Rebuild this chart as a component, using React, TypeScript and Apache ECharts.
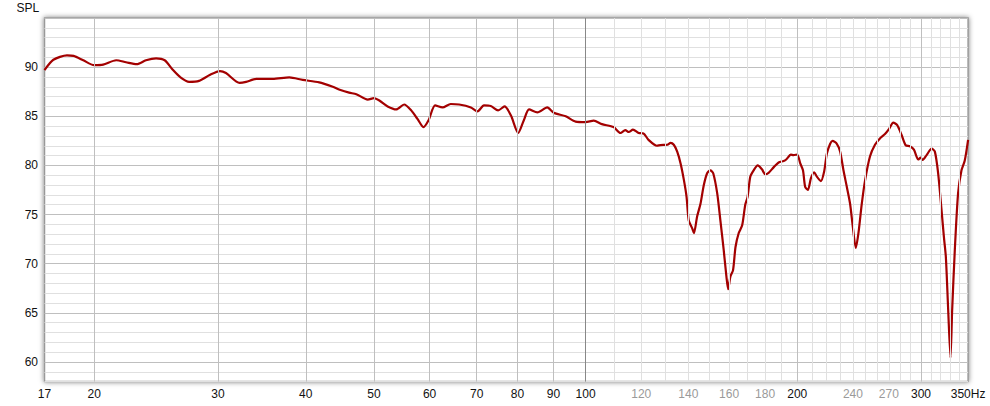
import React, { useEffect, useRef } from "react";
import * as echarts from "echarts";

// Frequency response (Hz) and SPL (dB)
const freqs = [
  17.0, 17.5, 18.3, 18.7, 19.3, 20.0, 20.6, 21.5, 22.2, 23.0, 23.7, 24.5, 25.2, 25.9, 26.5, 27.3, 28.2, 29.2,
  30.2, 30.8, 32.2, 32.9, 34.0, 35.9, 37.9, 39.6, 41.8, 43.7, 44.7, 46.1, 47.2, 49.0, 50.0, 50.9, 52.3, 53.8,
  55.2, 56.5, 57.7, 58.8, 59.8, 61.1, 62.6, 64.3, 66.1, 68.7, 70.2, 71.7, 73.3, 75.1, 76.7, 78.3, 80.2, 81.7,
  83.1, 85.4, 88.2, 90.1, 93.7, 96.8, 100, 102.7, 105.5, 109.6, 112.1, 113.9, 115.2, 116.8, 119.0, 120.9, 122.9,
  126.3, 127.8, 130.7, 132.1, 133.5, 135.0, 136.5, 138.0, 139.2, 140.2, 141.8, 142.6, 144.1, 145.7, 147.3, 148.9,
  150.5, 151.9, 153.9, 155.5, 157.2, 158.6, 159.5, 160.7, 162.1, 163.4, 165.1, 167.0, 168.7, 170.0, 171.5, 173.4,
  175.7, 178.2, 180.1, 182.1, 185.1, 188.2, 191.3, 192.9, 195.9, 197.6, 200.0, 202.0, 203.8, 205.3, 207.1, 209.2,
  211.4, 213.3, 216.1, 218.4, 220.4, 222.8, 224.5, 227.7, 230.2, 232.7, 235.3, 237.8, 239.9, 242.3, 244.4, 247.1,
  249.8, 253.8, 258.0, 262.2, 266.6, 270.4, 273.9, 277.5, 281.5, 285.3, 289.3, 293.1, 297.3, 299.6, 301.6, 305.5,
  310.6, 313.9, 317.3, 320.8, 323.3, 325.4, 327.9, 330.4, 332.2, 335.1, 338.7, 342.5, 346.2, 350,
];
const spl = [
  89.7, 90.75, 91.2, 91.15, 90.7, 90.2, 90.25, 90.7, 90.5, 90.3, 90.7, 90.9, 90.7, 89.7, 89.0, 88.5, 88.6, 89.2,
  89.6, 89.4, 88.4, 88.5, 88.8, 88.8, 88.95, 88.7, 88.45, 88.0, 87.7, 87.4, 87.25, 86.7, 86.85, 86.6, 86.0, 85.7,
  86.2, 85.6, 84.7, 83.9, 84.6, 86.1, 85.9, 86.25, 86.2, 85.9, 85.5, 86.1, 86.05, 85.6, 86.0, 85.1, 83.3, 84.6,
  85.7, 85.4, 85.9, 85.35, 85.0, 84.45, 84.4, 84.55, 84.2, 83.9, 83.3, 83.6, 83.4, 83.65, 83.3, 83.25, 82.6,
  82.0, 82.07, 82.1, 82.3, 82.1, 81.4, 80.2, 78.5, 76.8, 74.4, 73.6, 73.1, 74.8, 76.1, 78.0, 79.2,
  79.5, 79.2, 77.15, 74.4, 71.4, 68.7, 67.4, 68.7, 69.35, 71.7, 73.1, 73.9, 76.0, 76.8, 78.85, 79.5,
  80.0, 79.6, 79.1, 79.25, 79.8, 80.3, 80.45, 80.6, 81.1, 81.05, 81.1, 80.2, 79.5, 77.8, 77.5, 78.7,
  79.3, 78.85, 78.4, 79.35, 81.2, 82.2, 82.5, 82.2, 81.4, 79.5, 77.8, 76.1, 73.8, 71.6, 73.1, 76.1,
  78.5, 80.9, 82.1, 82.75, 83.2, 83.75, 84.35, 84.1, 83.1, 82.05, 81.95, 81.6, 80.6, 80.8, 80.55, 81.05,
  81.7, 81.4, 79.2, 75.5, 72.75, 70.7, 65.3, 60.4, 65.3, 71.4, 77.15, 79.5, 80.5, 82.6,
];

// Axis setup
const xMin = 17;
const xMax = 350;
const yMin = 58;
const yMax = 95;
const yLabelValues = [60, 65, 70, 75, 80, 85, 90];

// Vertical grid lines
const majorGridFreqs = [20, 30, 40, 50, 60, 70, 80, 90, 200, 300];
const refGridFreqs = [100];
const minorGridFreqs = [
  110, 120, 130, 140, 150, 160, 170, 180, 190,
  210, 220, 230, 240, 250, 260, 270, 280, 290,
  310, 320, 330, 340,
];

// Frequency tick labels
const darkTickLabels = [17, 20, 30, 40, 50, 60, 70, 80, 90, 100, 200, 300];
const grayTickLabels = [120, 140, 160, 180, 240, 270];
const endTickLabel = 350;

const FONT = "'Liberation Sans', Arial, sans-serif";

export default function App() {
  const ref = useRef<HTMLDivElement>(null);

  useEffect(() => {
    if (!ref.current) return;
    const chart = echarts.init(ref.current, undefined, { renderer: "svg" });

    const labelBase = {
      show: true,
      position: "start",
      distance: 6,
      fontSize: 12,
      fontFamily: FONT,
    };

    const gridLineData: any[] = [];
    minorGridFreqs.forEach((f) =>
      gridLineData.push({ xAxis: f, lineStyle: { color: "#e0e0e0", width: 1, type: "solid" }, label: { show: false } })
    );
    majorGridFreqs.forEach((f) =>
      gridLineData.push({ xAxis: f, lineStyle: { color: "#bfbfbf", width: 1, type: "solid" }, label: { show: false } })
    );
    refGridFreqs.forEach((f) =>
      gridLineData.push({ xAxis: f, lineStyle: { color: "#888888", width: 1, type: "solid" }, label: { show: false } })
    );

    const labelData: any[] = [];
    darkTickLabels.forEach((f) =>
      labelData.push({
        xAxis: f,
        lineStyle: { color: "rgba(0,0,0,0)", width: 0 },
        label: { ...labelBase, color: "#111", formatter: String(f) },
      })
    );
    grayTickLabels.forEach((f) =>
      labelData.push({
        xAxis: f,
        lineStyle: { color: "rgba(0,0,0,0)", width: 0 },
        label: { ...labelBase, color: "#9a9a9a", formatter: String(f) },
      })
    );
    labelData.push({
      xAxis: endTickLabel,
      lineStyle: { color: "rgba(0,0,0,0)", width: 0 },
      label: { ...labelBase, color: "#111", formatter: endTickLabel + "Hz" },
    });

    const lineData = freqs.map((f, i) => [f, spl[i]]);

    chart.setOption({
      animation: false,
      backgroundColor: "#ffffff",
      textStyle: { fontFamily: FONT },
      grid: {
        left: 44.5,
        right: 21.9,
        top: 18,
        bottom: 24.4,
        show: true,
        backgroundColor: "#ffffff",
        borderColor: "#999999",
        borderWidth: 1.5,
        shadowColor: "rgba(0,0,0,0.5)",
        shadowBlur: 5,
      },
      graphic: [
        {
          type: "text",
          left: 16.5,
          top: 1.5,
          style: { text: "SPL", fontSize: 12, fontFamily: FONT, fill: "#111" },
        },
      ],
      xAxis: {
        type: "log",
        logBase: 10,
        min: xMin,
        max: xMax,
        axisLine: { show: false },
        axisTick: { show: false },
        axisLabel: { show: false },
        splitLine: { show: false },
      },
      yAxis: {
        type: "value",
        min: yMin,
        max: yMax,
        interval: 1,
        axisLine: { show: false },
        axisTick: { show: false },
        axisLabel: {
          color: "#111",
          fontSize: 12,
          fontFamily: FONT,
          margin: 6.5,
          formatter: (v: number) => (yLabelValues.indexOf(v) >= 0 ? String(v) : ""),
        },
        splitLine: {
          show: true,
          lineStyle: {
            color: ["#e0e0e0", "#e0e0e0", "#bfbfbf", "#e0e0e0", "#e0e0e0"],
            width: 1,
          },
        },
      },
      series: [
        {
          type: "line",
          data: lineData,
          z: 1,
          silent: true,
          showSymbol: false,
          lineStyle: { opacity: 0 },
          markLine: {
            silent: true,
            animation: false,
            symbol: ["none", "none"],
            label: { show: true, position: "start" },
            data: [...gridLineData, ...labelData],
          },
        },
        {
          type: "line",
          data: lineData,
          z: 3,
          silent: true,
          showSymbol: false,
          smooth: 0.25,
          lineStyle: { color: "#a30000", width: 2.2 },
        },
      ],
    });

    return () => chart.dispose();
  }, []);

  return <div ref={ref} style={{ position: "absolute", left: 0, top: 0, width: 990, height: 406 }} />;
}
